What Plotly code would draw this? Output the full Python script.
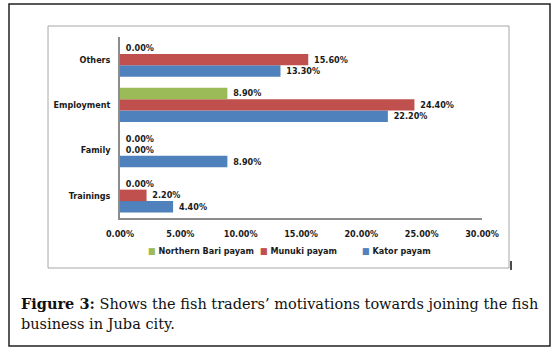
import plotly.graph_objects as go

categories = ["Trainings", "Family", "Employment", "Others"]
northern_bari = [0.0, 0.0, 8.9, 0.0]
munuki = [2.2, 0.0, 24.4, 15.6]
kator = [4.4, 8.9, 22.2, 13.3]
x_ticks = [0, 5, 10, 15, 20, 25, 30]
x_ticklabels = ["0.00%", "5.00%", "10.00%", "15.00%", "20.00%", "25.00%", "30.00%"]
series_names = ["Kator payam", "Munuki payam", "Northern Bari payam"]
series_colors = ["#4F81BD", "#C0504D", "#9BBB59"]
caption_bold = "Figure 3:"
caption_rest = " Shows the fish traders’ motivations towards joining the fish"
caption_line2 = "business in Juba city."

W, H = 557, 350
L, R, T, B = 120, 482, 37, 218  # plot area in pixels

def px(x):
    return (x - L) / (R - L)

def py(y):
    return (B - y) / (B - T)

FONT = "DejaVu Sans Condensed, DejaVu Sans"
fs = 9
TXT = "#1a1a1a"

fig = go.Figure()
for name, vals, col in zip(series_names, [kator, munuki, northern_bari], series_colors):
    fig.add_trace(go.Bar(
        y=categories, x=vals, name=name, orientation="h",
        marker=dict(color=col, line=dict(width=0)),
        text=[f" {v:.2f}%" for v in vals],
        textposition="outside", cliponaxis=False,
        textfont=dict(family=FONT, size=fs, color=TXT, weight="bold"),
        showlegend=False,
    ))

shapes = [
    dict(type="rect", xref="paper", yref="paper", x0=px(9), x1=px(550), y0=py(4), y1=py(346),
         line=dict(color="#222222", width=1.5), fillcolor="rgba(0,0,0,0)", layer="below"),
    dict(type="rect", xref="paper", yref="paper", x0=px(48), x1=px(509), y0=py(26), y1=py(268),
         line=dict(color="#A6A6A6", width=1), fillcolor="rgba(0,0,0,0)", layer="below"),
    dict(type="line", xref="paper", yref="paper", x0=px(511), x1=px(511), y0=py(261), y1=py(270),
         line=dict(color="#111111", width=1.5)),
]

# legend (drawn as text, reversed series order like the original)
legend_x = [146, 258, 360]
annotations = []
for lx, name, col in zip(legend_x, series_names[::-1], series_colors[::-1]):
    annotations.append(dict(
        xref="paper", yref="paper", x=px(lx), y=py(251), xanchor="left", yanchor="middle",
        text=f"<span style='color:{col}'>■</span> {name}", showarrow=False,
        font=dict(family=FONT, size=fs, color=TXT, weight="bold")))

annotations += [
    dict(xref="paper", yref="paper", x=px(19), y=py(303), xanchor="left", yanchor="middle",
         text=f"<b>{caption_bold}</b>{caption_rest}", showarrow=False,
         font=dict(family="DejaVu Serif", size=14.5, color="#111111")),
    dict(xref="paper", yref="paper", x=px(19), y=py(324), xanchor="left", yanchor="middle",
         text=caption_line2, showarrow=False,
         font=dict(family="DejaVu Serif", size=14.5, color="#111111")),
]

fig.update_layout(
    width=W, height=H,
    margin=dict(l=L, r=W - R, t=T, b=H - B),
    paper_bgcolor="white", plot_bgcolor="white",
    barmode="group", bargap=0.24, bargroupgap=0,
    showlegend=False,
    xaxis=dict(range=[0, 30], tickvals=x_ticks, ticktext=x_ticklabels, showgrid=False,
               zeroline=False, showline=True, linecolor="#8C8C8C", linewidth=1.5, ticks="",
               automargin=False,
               tickfont=dict(family=FONT, size=fs, color=TXT, weight="bold"), ticklabelstandoff=6),
    yaxis=dict(showgrid=False, zeroline=False, showline=True, linecolor="#8C8C8C", linewidth=1.5,
               ticks="", automargin=False,
               tickfont=dict(family=FONT, size=fs, color=TXT, weight="bold"),
               ticklabelstandoff=6),
    shapes=shapes, annotations=annotations,
)

fig.write_html("out.html", config={"displayModeBar": False},
               post_script="document.body.style.margin='0';document.body.style.overflow='hidden';")
